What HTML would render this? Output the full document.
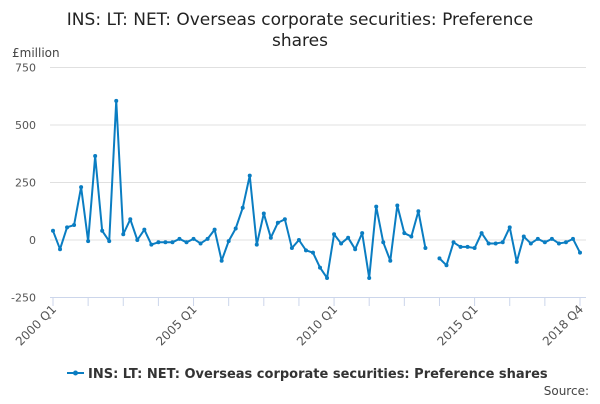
<!DOCTYPE html>
<html><head><meta charset="utf-8"><style>
body{margin:0;background:#fff;font-family:"DejaVu Sans",sans-serif;}
svg text{font-family:"DejaVu Sans",sans-serif;}
</style></head><body>
<svg width="600" height="400">
<text x="300" y="25" text-anchor="middle" font-size="17" fill="#222">INS: LT: NET: Overseas corporate securities: Preference</text>
<text x="300" y="46" text-anchor="middle" font-size="17" fill="#222">shares</text>
<text x="12" y="57" font-size="12" fill="#444">£million</text>
<g id="grid"></g><g id="xaxis"></g><g id="series"></g>
<g>
<line x1="67" y1="373" x2="84" y2="373" stroke="#0a7dc2" stroke-width="2"/><circle cx="75.5" cy="373" r="2.5" fill="#0a7dc2"/>
<text x="88" y="378" font-size="13" font-weight="bold" fill="#333">INS: LT: NET: Overseas corporate securities: Preference shares</text></g>
<text x="589" y="395" text-anchor="end" font-size="12" fill="#444">Source:</text>
</svg>
<script>
const yTicks=[750,500,250,0,-250];
const values=[40,-40,55,65,230,-5,365,40,-5,605,25,90,0,45,-20,-10,-10,-10,5,-10,5,-15,5,45,-90,-5,50,140,280,-20,115,10,75,90,-35,0,-45,-55,-120,-165,25,-15,10,-40,30,-165,145,-10,-90,150,30,15,125,-35,null,-80,-110,-10,-30,-30,-35,30,-15,-15,-10,55,-95,15,-15,5,-10,5,-15,-10,5,-55];
const xLabels=["2000 Q1","2005 Q1","2010 Q1","2015 Q1","2018 Q4"];
const xLabelIdx=[0,20,40,60,75];
const NS='http://www.w3.org/2000/svg';
const x0=53,x1=580,y0=240,py=0.23;
const X=i=>x0+i*(x1-x0)/(values.length-1);
const Y=v=>y0-v*py;
function mk(t,a,p){const e=document.createElementNS(NS,t);for(const k in a)e.setAttribute(k,a[k]);p.appendChild(e);return e;}
const grid=document.getElementById('grid');
yTicks.forEach(v=>{
 const l=mk('line',{x1:50,x2:586,y1:Y(v),y2:Y(v),stroke:v===-250?'#ccd6eb':'#e0e0e0','stroke-width':1},grid);
 
 
 const t=mk('text',{x:36,y:Y(v)+4,'text-anchor':'end','font-size':11,fill:'#555'},grid);
 t.textContent=v;
 
 
});
const xa=document.getElementById('xaxis');
for(let i=0;i<values.length;i+=5){const l=mk('line',{x1:X(i),x2:X(i),y1:298,y2:306,stroke:'#ccd6eb'},xa);
 
 }
mk('line',{x1:X(75),x2:X(75),y1:298,y2:306,stroke:'#ccd6eb'},xa);
xLabels.forEach((s,k)=>{const x=X(xLabelIdx[k])+4,y=310;
 const t=mk('text',{x:x,y:y,'text-anchor':'end','font-size':12,fill:'#555',transform:`rotate(-45 ${x} ${y})`},xa);
 t.textContent=s;
 
 });
const sg=document.getElementById('series');
let d='',pen=false;
values.forEach((v,i)=>{if(v===null){pen=false;return;}d+=(pen?'L':'M')+X(i)+' '+Y(v);pen=true;});
const p=mk('path',{d:d,fill:'none',stroke:'#0a7dc2','stroke-width':2,'stroke-linejoin':'round'},sg);


values.forEach((v,i)=>{if(v===null)return;const c=mk('circle',{cx:X(i),cy:Y(v),r:2,fill:'#0a7dc2'},sg);
 
 });
</script>
</body></html>
